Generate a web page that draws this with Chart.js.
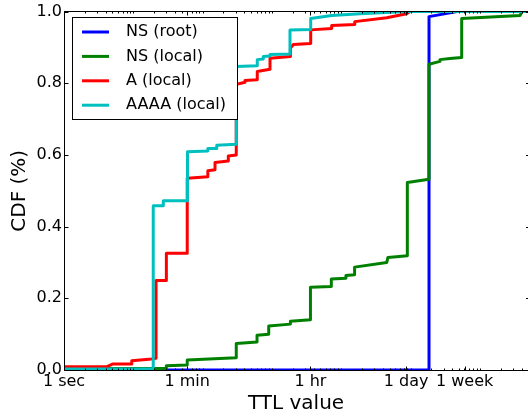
<!DOCTYPE html>
<html>
<head>
<meta charset="utf-8">
<script src="https://cdn.jsdelivr.net/npm/chart.js@4.4.0/dist/chart.umd.min.js"></script>
<style>
    body { margin: 0; background: #fff; }
    #wrap { width: 528px; height: 417px; }
</style>
</head>
<body>
<div id="wrap"><canvas id="ttlChart" width="528" height="417"></canvas></div>
<script>
// TTL (segundos) y CDF
const nsRootTtl = [1, 185000, 185000, 470000, 5.3e6];
const nsRootCdf = [0, 0, 0.986, 1.0, 1.0];

const nsLocalTtl = [1, 30, 30, 60, 60, 306, 306, 610, 610, 900, 900, 1850, 1850, 3600, 3600,
    7200, 7200, 11700, 11700, 15600, 15600, 45400, 47300, 90000, 90000,
    185000, 185000, 266000, 266000, 371000, 548000, 548000, 3.8e6, 4.06e6, 5.3e6];
const nsLocalCdf = [0.004, 0.004, 0.012, 0.014, 0.028, 0.034, 0.074, 0.078, 0.097, 0.100, 0.123, 0.128, 0.136, 0.140, 0.231,
    0.233, 0.254, 0.256, 0.264, 0.266, 0.287, 0.300, 0.314, 0.319, 0.523,
    0.532, 0.853, 0.861, 0.866, 0.869, 0.872, 0.981, 0.989, 1.0, 1.0];

const aLocalTtl = [1, 4.1, 5.1, 9.5, 9.5, 18.4, 21.3, 21.3, 30, 30, 60, 60, 119, 119, 151,
    151, 235, 235, 306, 306, 409, 409, 615, 615, 939, 939, 1850, 1850, 2040, 3630,
    3630, 7290, 7290, 15700, 15700, 45400, 88100, 98400, 5.3e6];
const aLocalCdf = [0.009, 0.009, 0.017, 0.017, 0.026, 0.031, 0.033, 0.250, 0.250, 0.326, 0.326, 0.535, 0.539, 0.556, 0.559,
    0.579, 0.583, 0.597, 0.600, 0.797, 0.803, 0.808, 0.810, 0.833, 0.839, 0.870, 0.875, 0.898, 0.908, 0.911,
    0.949, 0.953, 0.961, 0.964, 0.972, 0.983, 0.994, 1.0, 1.0];

const aaaaLocalTtl = [1, 19.4, 19.4, 27.1, 27.1, 60.5, 60.5, 119, 119, 160, 160, 306, 306, 615, 615,
    751, 751, 939, 939, 1824, 1824, 3630, 3630, 7290, 18700, 88100, 5.3e6];
const aaaaLocalCdf = [0.003, 0.003, 0.458, 0.458, 0.472, 0.472, 0.609, 0.611, 0.618, 0.618, 0.627, 0.630, 0.847, 0.849, 0.866,
    0.868, 0.875, 0.876, 0.880, 0.882, 0.949, 0.950, 0.981, 0.989, 0.994, 1.0, 1.0];

const seriesLabels = ['NS (root)', 'NS (local)', 'A (local)', 'AAAA (local)'];
const seriesColors = ['#0000ff', '#008000', '#ff0000', '#00bfbf'];

const xTickValues = [1, 60, 3600, 86400, 604800];
const xTickLabels = ['1 sec', '1 min', '1 hr', '1 day', '1 week'];
const yTickValues = [0, 0.2, 0.4, 0.6, 0.8, 1.0];

const FONT = 'DejaVu Sans';

function toPoints(xs, ys) {
    return xs.map((x, i) => ({ x: x, y: ys[i] }));
}

// Marco con marcas hacia dentro (estilo matplotlib); el borde derecho queda fuera del lienzo
const frameTicks = {
    id: 'frameTicks',
    afterDatasetsDraw(chart) {
        const { ctx, chartArea: a, scales: { x, y } } = chart;
        const left = Math.round(a.left) + 0.5;
        const top = Math.round(a.top) - 0.5;
        const bottom = Math.round(a.bottom) + 0.5;
        const rightSpine = a.right + 2;
        ctx.save();
        ctx.strokeStyle = '#000';
        ctx.lineWidth = 1;
        ctx.beginPath();
        const tickX = (v, len) => {
            const px = Math.round(x.getPixelForValue(v)) + 0.5;
            ctx.moveTo(px, bottom);
            ctx.lineTo(px, bottom - len);
            ctx.moveTo(px, top);
            ctx.lineTo(px, top + len);
        };
        for (let e = 0; e <= 6; e++) {
            for (let m = 1; m <= 9; m++) {
                const v = m * Math.pow(10, e);
                if (v > x.max) break;
                tickX(v, 2);
            }
        }
        xTickValues.forEach(v => tickX(v, 4));
        yTickValues.forEach(v => {
            const py = Math.round(y.getPixelForValue(v)) + 0.5;
            ctx.moveTo(left, py);
            ctx.lineTo(left + 4, py);
            ctx.moveTo(rightSpine, py);
            ctx.lineTo(rightSpine - 4, py);
        });
        // ejes: izquierdo, superior, inferior
        ctx.moveTo(left, top);
        ctx.lineTo(left, bottom);
        ctx.moveTo(left, top);
        ctx.lineTo(rightSpine, top);
        ctx.moveTo(left, bottom);
        ctx.lineTo(rightSpine, bottom);
        ctx.stroke();
        ctx.restore();
    }
};

// Leyenda con recuadro dentro del área del gráfico
const boxLegend = {
    id: 'boxLegend',
    afterDraw(chart) {
        const ctx = chart.ctx;
        ctx.save();
        ctx.fillStyle = '#fff';
        ctx.fillRect(72, 17, 165, 102);
        ctx.strokeStyle = '#000';
        ctx.lineWidth = 1;
        ctx.strokeRect(72.5, 17.5, 165, 102);
        ctx.font = '16px "' + FONT + '"';
        ctx.textBaseline = 'middle';
        ctx.textAlign = 'left';
        chart.data.datasets.forEach((ds, i) => {
            const yy = 32 + i * 24.4;
            ctx.strokeStyle = ds.borderColor;
            ctx.lineWidth = 3;
            ctx.beginPath();
            ctx.moveTo(82, yy);
            ctx.lineTo(109, yy);
            ctx.stroke();
            ctx.fillStyle = '#000';
            ctx.fillText(ds.label, 126, yy);
        });
        ctx.restore();
    }
};

const datasets = [
    toPoints(nsRootTtl, nsRootCdf),
    toPoints(nsLocalTtl, nsLocalCdf),
    toPoints(aLocalTtl, aLocalCdf),
    toPoints(aaaaLocalTtl, aaaaLocalCdf)
].map((pts, i) => ({
    label: seriesLabels[i],
    data: pts,
    borderColor: seriesColors[i],
    backgroundColor: seriesColors[i],
    borderWidth: 3,
    pointRadius: 0,
    tension: 0,
    fill: false,
    borderJoinStyle: 'round',
    order: 4 - i
}));

const ctx = document.getElementById('ttlChart').getContext('2d');
const ttlChart = new Chart(ctx, {
    type: 'line',
    data: { datasets: datasets },
    plugins: [frameTicks, boxLegend],
    options: {
        responsive: false,
        animation: false,
        layout: { padding: { top: 10, right: 0, left: 0, bottom: 0 } },
        plugins: {
            legend: { display: false },
            tooltip: { enabled: false }
        },
        scales: {
            x: {
                type: 'logarithmic',
                min: 1,
                max: 4.96e6,
                afterBuildTicks: s => { s.ticks = xTickValues.map(v => ({ value: v })); },
                afterFit: s => { s.height = 47; },
                grid: { display: false, drawTicks: false },
                border: { display: false },
                ticks: {
                    autoSkip: false,
                    maxRotation: 0,
                    padding: 2,
                    color: '#000',
                    font: { family: FONT, size: 16 },
                    callback: v => {
                        const i = xTickValues.indexOf(v);
                        return i >= 0 ? xTickLabels[i] : '';
                    }
                },
                title: {
                    display: true,
                    text: 'TTL value',
                    color: '#000',
                    font: { family: FONT, size: 20 },
                    padding: { top: 0, bottom: 1 }
                }
            },
            y: {
                type: 'linear',
                min: 0,
                max: 1,
                afterBuildTicks: s => { s.ticks = yTickValues.map(v => ({ value: v })); },
                afterFit: s => { s.width = 64; },
                grid: { display: false, drawTicks: false },
                border: { display: false },
                ticks: {
                    padding: 2,
                    color: '#000',
                    font: { family: FONT, size: 16 },
                    callback: v => v.toFixed(1)
                },
                title: {
                    display: true,
                    text: 'CDF (%)',
                    color: '#000',
                    font: { family: FONT, size: 20 },
                    padding: { top: 8, bottom: 0 }
                }
            }
        }
    }
});
</script>
</body>
</html>
